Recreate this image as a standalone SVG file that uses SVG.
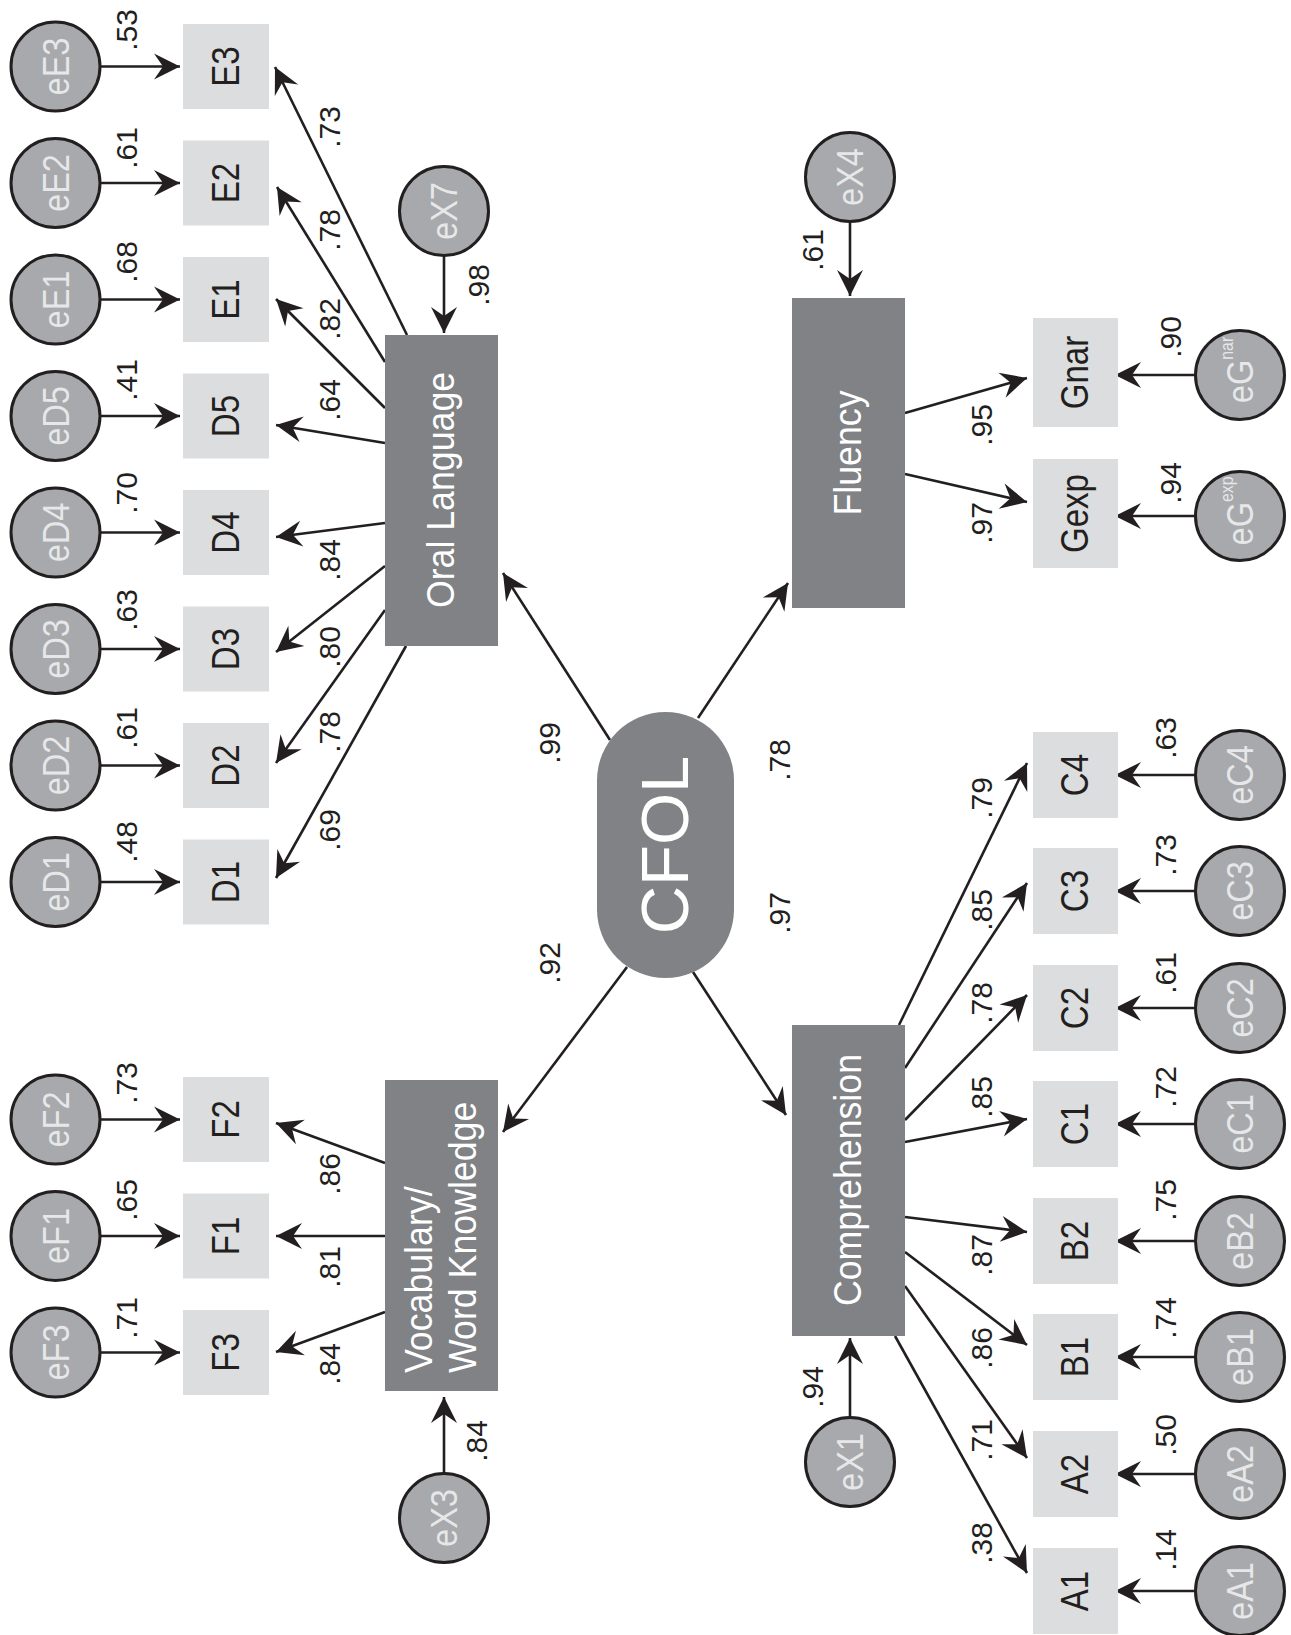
<svg xmlns="http://www.w3.org/2000/svg" width="1291" height="1635" viewBox="0 0 1291 1635">
<style>
.lat{fill:#808285}
.obs{fill:#dcdddf}
.err{fill:#a7a9ac;stroke:#231f20;stroke-width:3}
.edge{stroke:#231f20;stroke-width:2.6;fill:none;marker-end:url(#ah)}
text{font-family:"Liberation Sans",Arial,sans-serif;text-anchor:middle;dominant-baseline:central}
.num{font-size:30px;fill:#231f20}
.obst{font-size:38px;fill:#231f20}
.errt{font-size:37px;fill:#e6e7e8}
.latt{font-size:38px;fill:#ffffff}
.cfol{font-size:67px;fill:#ffffff}
</style>
<defs>
<marker id="ah" markerUnits="userSpaceOnUse" markerWidth="30" markerHeight="30" viewBox="-28 -15 30 30" refX="0" refY="0" orient="auto">
<path d="M0,0 L-26,-13 L-17,0 L-26,13 Z" fill="#231f20"/>
</marker>
</defs>
<rect width="1291" height="1635" fill="#ffffff"/>

<g id="connectors">
<!-- left error arrows -->
<line class="edge" x1="100" y1="66.5" x2="180" y2="66.5"/>
<line class="edge" x1="100" y1="183" x2="180" y2="183"/>
<line class="edge" x1="100" y1="299.5" x2="180" y2="299.5"/>
<line class="edge" x1="100" y1="416" x2="180" y2="416"/>
<line class="edge" x1="100" y1="532.5" x2="180" y2="532.5"/>
<line class="edge" x1="100" y1="649" x2="180" y2="649"/>
<line class="edge" x1="100" y1="765.5" x2="180" y2="765.5"/>
<line class="edge" x1="100" y1="882" x2="180" y2="882"/>
<line class="edge" x1="100" y1="1119.5" x2="180" y2="1119.5"/>
<line class="edge" x1="100" y1="1236" x2="180" y2="1236"/>
<line class="edge" x1="100" y1="1352.5" x2="180" y2="1352.5"/>
<!-- oral language loadings -->
<line class="edge" x1="407" y1="335" x2="275" y2="67"/>
<line class="edge" x1="385" y1="362" x2="277" y2="187"/>
<line class="edge" x1="385" y1="408" x2="276" y2="299"/>
<line class="edge" x1="385" y1="443" x2="276" y2="425"/>
<line class="edge" x1="385" y1="523" x2="276" y2="537"/>
<line class="edge" x1="385" y1="566" x2="276" y2="652"/>
<line class="edge" x1="385" y1="610" x2="276" y2="763"/>
<line class="edge" x1="406" y1="646" x2="276" y2="878"/>
<!-- vocabulary loadings -->
<line class="edge" x1="385" y1="1163" x2="276" y2="1123"/>
<line class="edge" x1="385" y1="1236" x2="276" y2="1236"/>
<line class="edge" x1="385" y1="1312" x2="276" y2="1352"/>
<!-- disturbances -->
<line class="edge" x1="444" y1="256" x2="444" y2="333"/>
<line class="edge" x1="444" y1="1473" x2="444" y2="1397"/>
<line class="edge" x1="850" y1="222" x2="850" y2="296"/>
<line class="edge" x1="850" y1="1417" x2="850" y2="1338"/>
<!-- CFOL -->
<line class="edge" x1="610" y1="740" x2="503" y2="573"/>
<line class="edge" x1="627" y1="967" x2="503" y2="1132"/>
<line class="edge" x1="698" y1="718" x2="788" y2="583"/>
<line class="edge" x1="693" y1="972" x2="786" y2="1115"/>
<!-- fluency -->
<line class="edge" x1="905" y1="413" x2="1027" y2="378"/>
<line class="edge" x1="905" y1="474" x2="1027" y2="502"/>
<line class="edge" x1="1195.5" y1="375" x2="1115" y2="375"/>
<line class="edge" x1="1195.5" y1="516" x2="1115" y2="516"/>
<!-- comprehension -->
<line class="edge" x1="899" y1="1025" x2="1027" y2="763"/>
<line class="edge" x1="905" y1="1068" x2="1027" y2="883"/>
<line class="edge" x1="905" y1="1120" x2="1027" y2="995"/>
<line class="edge" x1="905" y1="1142" x2="1027" y2="1119"/>
<line class="edge" x1="905" y1="1217" x2="1027" y2="1232"/>
<line class="edge" x1="905" y1="1252" x2="1027" y2="1345"/>
<line class="edge" x1="905" y1="1286" x2="1027" y2="1458"/>
<line class="edge" x1="895" y1="1336" x2="1027" y2="1573"/>
<!-- right error arrows -->
<line class="edge" x1="1195.5" y1="775" x2="1115" y2="775"/>
<line class="edge" x1="1195.5" y1="891" x2="1115" y2="891"/>
<line class="edge" x1="1195.5" y1="1008" x2="1115" y2="1008"/>
<line class="edge" x1="1195.5" y1="1124" x2="1115" y2="1124"/>
<line class="edge" x1="1195.5" y1="1241" x2="1115" y2="1241"/>
<line class="edge" x1="1195.5" y1="1357" x2="1115" y2="1357"/>
<line class="edge" x1="1195.5" y1="1474" x2="1115" y2="1474"/>
<line class="edge" x1="1195.5" y1="1591" x2="1115" y2="1591"/>
</g>

<g id="labels">
<text class="num" transform="translate(126,30) rotate(-90)">.53</text>
<text class="num" transform="translate(126,148) rotate(-90)">.61</text>
<text class="num" transform="translate(126,262) rotate(-90)">.68</text>
<text class="num" transform="translate(126,380) rotate(-90)">.41</text>
<text class="num" transform="translate(126,493) rotate(-90)">.70</text>
<text class="num" transform="translate(126,610) rotate(-90)">.63</text>
<text class="num" transform="translate(126,728) rotate(-90)">.61</text>
<text class="num" transform="translate(126,842) rotate(-90)">.48</text>
<text class="num" transform="translate(126,1083) rotate(-90)">.73</text>
<text class="num" transform="translate(126,1200) rotate(-90)">.65</text>
<text class="num" transform="translate(126,1318) rotate(-90)">.71</text>
<text class="num" transform="translate(329,127) rotate(-90)">.73</text>
<text class="num" transform="translate(329,230) rotate(-90)">.78</text>
<text class="num" transform="translate(329,319) rotate(-90)">.82</text>
<text class="num" transform="translate(329,400) rotate(-90)">.64</text>
<text class="num" transform="translate(329,560) rotate(-90)">.84</text>
<text class="num" transform="translate(329,647) rotate(-90)">.80</text>
<text class="num" transform="translate(329,732) rotate(-90)">.78</text>
<text class="num" transform="translate(329,830) rotate(-90)">.69</text>
<text class="num" transform="translate(329,1174) rotate(-90)">.86</text>
<text class="num" transform="translate(329,1267) rotate(-90)">.81</text>
<text class="num" transform="translate(329,1364) rotate(-90)">.84</text>
<text class="num" transform="translate(478,285) rotate(-90)">.98</text>
<text class="num" transform="translate(476,1441) rotate(-90)">.84</text>
<text class="num" transform="translate(549,743) rotate(-90)">.99</text>
<text class="num" transform="translate(549,963) rotate(-90)">.92</text>
<text class="num" transform="translate(779,760) rotate(-90)">.78</text>
<text class="num" transform="translate(779,913) rotate(-90)">.97</text>
<text class="num" transform="translate(812,250) rotate(-90)">.61</text>
<text class="num" transform="translate(812,1387) rotate(-90)">.94</text>
<text class="num" transform="translate(981,425) rotate(-90)">.95</text>
<text class="num" transform="translate(981,523) rotate(-90)">.97</text>
<text class="num" transform="translate(1170,337) rotate(-90)">.90</text>
<text class="num" transform="translate(1170,483) rotate(-90)">.94</text>
<text class="num" transform="translate(981,798) rotate(-90)">.79</text>
<text class="num" transform="translate(981,910) rotate(-90)">.85</text>
<text class="num" transform="translate(981,1003) rotate(-90)">.78</text>
<text class="num" transform="translate(981,1097) rotate(-90)">.85</text>
<text class="num" transform="translate(981,1255) rotate(-90)">.87</text>
<text class="num" transform="translate(981,1348) rotate(-90)">.86</text>
<text class="num" transform="translate(981,1440) rotate(-90)">.71</text>
<text class="num" transform="translate(981,1543) rotate(-90)">.38</text>
<text class="num" transform="translate(1165,738) rotate(-90)">.63</text>
<text class="num" transform="translate(1165,855) rotate(-90)">.73</text>
<text class="num" transform="translate(1165,973) rotate(-90)">.61</text>
<text class="num" transform="translate(1165,1087) rotate(-90)">.72</text>
<text class="num" transform="translate(1165,1200) rotate(-90)">.75</text>
<text class="num" transform="translate(1165,1318) rotate(-90)">.74</text>
<text class="num" transform="translate(1165,1435) rotate(-90)">.50</text>
<text class="num" transform="translate(1165,1550) rotate(-90)">.14</text>
</g>

<!-- CFOL -->
<g id="CFOL">
<rect class="lat" x="597" y="712" width="137" height="266" rx="68.5" ry="68.5"/>
<text class="cfol" transform="translate(664,845) rotate(-90)">CFOL</text>
</g>

<!-- latent factors -->
<g id="OralLanguage">
<rect class="lat" x="385" y="335" width="113" height="311"/>
<text class="latt" transform="translate(441,490) rotate(-90) scale(0.94,1)">Oral Language</text>
</g>
<g id="Vocabulary">
<rect class="lat" x="385" y="1080" width="113" height="311"/>
<text class="latt" transform="translate(432,1373) rotate(-90) scale(0.94,1)" style="text-anchor:start;dominant-baseline:alphabetic"><tspan x="0" y="0">Vocabulary/</tspan><tspan x="0" y="44">Word Knowledge</tspan></text>
</g>
<g id="Fluency">
<rect class="lat" x="792" y="298" width="113" height="310"/>
<text class="latt" transform="translate(848,453) rotate(-90) scale(0.94,1)">Fluency</text>
</g>
<g id="Comprehension">
<rect class="lat" x="792" y="1025" width="113" height="311"/>
<text class="latt" transform="translate(848,1180) rotate(-90) scale(0.94,1)">Comprehension</text>
</g>

<!-- disturbances -->
<g id="eX7"><circle class="err" cx="444" cy="211" r="44.5"/><text class="errt" transform="translate(444,211) rotate(-90) scale(0.88,1)">eX7</text></g>
<g id="eX3"><circle class="err" cx="444" cy="1518" r="44.5"/><text class="errt" transform="translate(444,1518) rotate(-90) scale(0.88,1)">eX3</text></g>
<g id="eX4"><circle class="err" cx="850" cy="177" r="44.5"/><text class="errt" transform="translate(850,177) rotate(-90) scale(0.88,1)">eX4</text></g>
<g id="eX1"><circle class="err" cx="850" cy="1462" r="44.5"/><text class="errt" transform="translate(850,1462) rotate(-90) scale(0.88,1)">eX1</text></g>

<!-- left observed -->
<g id="E3"><rect class="obs" x="183" y="24" width="86" height="85"/><text class="obst" transform="translate(226,66.5) rotate(-90) scale(0.87,1)">E3</text></g>
<g id="E2"><rect class="obs" x="183" y="140.5" width="86" height="85"/><text class="obst" transform="translate(226,183) rotate(-90) scale(0.87,1)">E2</text></g>
<g id="E1"><rect class="obs" x="183" y="257" width="86" height="85"/><text class="obst" transform="translate(226,299.5) rotate(-90) scale(0.87,1)">E1</text></g>
<g id="D5"><rect class="obs" x="183" y="373.5" width="86" height="85"/><text class="obst" transform="translate(226,416) rotate(-90) scale(0.87,1)">D5</text></g>
<g id="D4"><rect class="obs" x="183" y="490" width="86" height="85"/><text class="obst" transform="translate(226,532.5) rotate(-90) scale(0.87,1)">D4</text></g>
<g id="D3"><rect class="obs" x="183" y="606.5" width="86" height="85"/><text class="obst" transform="translate(226,649) rotate(-90) scale(0.87,1)">D3</text></g>
<g id="D2"><rect class="obs" x="183" y="723" width="86" height="85"/><text class="obst" transform="translate(226,765.5) rotate(-90) scale(0.87,1)">D2</text></g>
<g id="D1"><rect class="obs" x="183" y="839.5" width="86" height="85"/><text class="obst" transform="translate(226,882) rotate(-90) scale(0.87,1)">D1</text></g>
<g id="F2"><rect class="obs" x="183" y="1077" width="86" height="85"/><text class="obst" transform="translate(226,1119.5) rotate(-90) scale(0.87,1)">F2</text></g>
<g id="F1"><rect class="obs" x="183" y="1193.5" width="86" height="85"/><text class="obst" transform="translate(226,1236) rotate(-90) scale(0.87,1)">F1</text></g>
<g id="F3"><rect class="obs" x="183" y="1310" width="86" height="85"/><text class="obst" transform="translate(226,1352.5) rotate(-90) scale(0.87,1)">F3</text></g>

<!-- left errors -->
<g id="eE3"><circle class="err" cx="55.5" cy="66.5" r="44.5"/><text class="errt" transform="translate(55.5,66.5) rotate(-90) scale(0.88,1)">eE3</text></g>
<g id="eE2"><circle class="err" cx="55.5" cy="183" r="44.5"/><text class="errt" transform="translate(55.5,183) rotate(-90) scale(0.88,1)">eE2</text></g>
<g id="eE1"><circle class="err" cx="55.5" cy="299.5" r="44.5"/><text class="errt" transform="translate(55.5,299.5) rotate(-90) scale(0.88,1)">eE1</text></g>
<g id="eD5"><circle class="err" cx="55.5" cy="416" r="44.5"/><text class="errt" transform="translate(55.5,416) rotate(-90) scale(0.88,1)">eD5</text></g>
<g id="eD4"><circle class="err" cx="55.5" cy="532.5" r="44.5"/><text class="errt" transform="translate(55.5,532.5) rotate(-90) scale(0.88,1)">eD4</text></g>
<g id="eD3"><circle class="err" cx="55.5" cy="649" r="44.5"/><text class="errt" transform="translate(55.5,649) rotate(-90) scale(0.88,1)">eD3</text></g>
<g id="eD2"><circle class="err" cx="55.5" cy="765.5" r="44.5"/><text class="errt" transform="translate(55.5,765.5) rotate(-90) scale(0.88,1)">eD2</text></g>
<g id="eD1"><circle class="err" cx="55.5" cy="882" r="44.5"/><text class="errt" transform="translate(55.5,882) rotate(-90) scale(0.88,1)">eD1</text></g>
<g id="eF2"><circle class="err" cx="55.5" cy="1119.5" r="44.5"/><text class="errt" transform="translate(55.5,1119.5) rotate(-90) scale(0.88,1)">eF2</text></g>
<g id="eF1"><circle class="err" cx="55.5" cy="1236" r="44.5"/><text class="errt" transform="translate(55.5,1236) rotate(-90) scale(0.88,1)">eF1</text></g>
<g id="eF3"><circle class="err" cx="55.5" cy="1352.5" r="44.5"/><text class="errt" transform="translate(55.5,1352.5) rotate(-90) scale(0.88,1)">eF3</text></g>

<!-- fluency indicators -->
<g id="Gnar"><rect class="obs" x="1033" y="318" width="85" height="109"/><text class="obst" transform="translate(1075.5,372.5) rotate(-90) scale(0.87,1)">Gnar</text></g>
<g id="Gexp"><rect class="obs" x="1033" y="459" width="85" height="109"/><text class="obst" transform="translate(1075.5,513.5) rotate(-90) scale(0.87,1)">Gexp</text></g>
<g id="eGnar"><circle class="err" cx="1240" cy="375" r="44.5"/><text class="errt" transform="translate(1240,370) rotate(-90) scale(0.88,1)">eG<tspan style="font-size:18px" dy="-13">nar</tspan></text></g>
<g id="eGexp"><circle class="err" cx="1240" cy="516" r="44.5"/><text class="errt" transform="translate(1240,511) rotate(-90) scale(0.88,1)">eG<tspan style="font-size:18px" dy="-13">exp</tspan></text></g>

<!-- comprehension indicators -->
<g id="C4"><rect class="obs" x="1033" y="732" width="85" height="86"/><text class="obst" transform="translate(1075.5,775) rotate(-90) scale(0.87,1)">C4</text></g>
<g id="C3"><rect class="obs" x="1033" y="848" width="85" height="86"/><text class="obst" transform="translate(1075.5,891) rotate(-90) scale(0.87,1)">C3</text></g>
<g id="C2"><rect class="obs" x="1033" y="965" width="85" height="86"/><text class="obst" transform="translate(1075.5,1008) rotate(-90) scale(0.87,1)">C2</text></g>
<g id="C1"><rect class="obs" x="1033" y="1081" width="85" height="86"/><text class="obst" transform="translate(1075.5,1124) rotate(-90) scale(0.87,1)">C1</text></g>
<g id="B2"><rect class="obs" x="1033" y="1198" width="85" height="86"/><text class="obst" transform="translate(1075.5,1241) rotate(-90) scale(0.87,1)">B2</text></g>
<g id="B1"><rect class="obs" x="1033" y="1314" width="85" height="86"/><text class="obst" transform="translate(1075.5,1357) rotate(-90) scale(0.87,1)">B1</text></g>
<g id="A2"><rect class="obs" x="1033" y="1431" width="85" height="86"/><text class="obst" transform="translate(1075.5,1474) rotate(-90) scale(0.87,1)">A2</text></g>
<g id="A1"><rect class="obs" x="1033" y="1548" width="85" height="86"/><text class="obst" transform="translate(1075.5,1591) rotate(-90) scale(0.87,1)">A1</text></g>

<!-- right errors -->
<g id="eC4"><circle class="err" cx="1240" cy="775" r="44.5"/><text class="errt" transform="translate(1240,775) rotate(-90) scale(0.88,1)">eC4</text></g>
<g id="eC3"><circle class="err" cx="1240" cy="891" r="44.5"/><text class="errt" transform="translate(1240,891) rotate(-90) scale(0.88,1)">eC3</text></g>
<g id="eC2"><circle class="err" cx="1240" cy="1008" r="44.5"/><text class="errt" transform="translate(1240,1008) rotate(-90) scale(0.88,1)">eC2</text></g>
<g id="eC1"><circle class="err" cx="1240" cy="1124" r="44.5"/><text class="errt" transform="translate(1240,1124) rotate(-90) scale(0.88,1)">eC1</text></g>
<g id="eB2"><circle class="err" cx="1240" cy="1241" r="44.5"/><text class="errt" transform="translate(1240,1241) rotate(-90) scale(0.88,1)">eB2</text></g>
<g id="eB1"><circle class="err" cx="1240" cy="1357" r="44.5"/><text class="errt" transform="translate(1240,1357) rotate(-90) scale(0.88,1)">eB1</text></g>
<g id="eA2"><circle class="err" cx="1240" cy="1474" r="44.5"/><text class="errt" transform="translate(1240,1474) rotate(-90) scale(0.88,1)">eA2</text></g>
<g id="eA1"><circle class="err" cx="1240" cy="1591" r="44.5"/><text class="errt" transform="translate(1240,1591) rotate(-90) scale(0.88,1)">eA1</text></g>
</svg>
